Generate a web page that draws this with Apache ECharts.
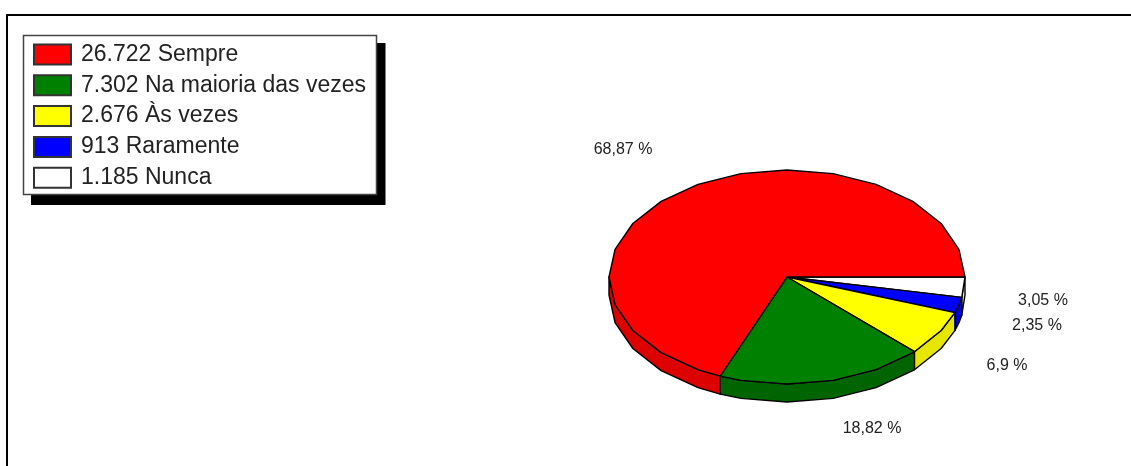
<!DOCTYPE html>
<html>
<head>
<meta charset="utf-8">
<style>html,body{margin:0;padding:0;background:#fff}#c{width:1131px;height:466px}</style>
<script src="https://cdn.jsdelivr.net/npm/echarts@6/dist/echarts.min.js"></script>
</head>
<body>
<div id="c"></div>
<script>
var categories = ['1.185 Nunca', '913 Raramente', '2.676 Às vezes', '7.302 Na maioria das vezes', '26.722 Sempre'];
var shares = [3.05, 2.35, 6.9, 18.82, 68.87];
var percentLabels = ['3,05 %', '2,35 %', '6,9 %', '18,82 %', '68,87 %'];
var legendOrder = ['26.722 Sempre', '7.302 Na maioria das vezes', '2.676 Às vezes', '913 Raramente', '1.185 Nunca'];

var topColors = ['#ffffff', '#0000ff', '#ffff00', '#008000', '#ff0000'];
var sideColors = ['#e6e6e6', '#0000dd', '#e6e600', '#006400', '#dd0000'];
var labelOffsets = [[256, 24], [250, 49], [220, 89], [85, 152], [-164, -127]];
var DEPTH = 18, STEP = 15;

var total = shares.reduce(function (a, b) { return a + b; }, 0);
var start = 0;
var ranges = shares.map(function (s) {
  var r = [start, start + s / total * 360];
  start = r[1];
  return r;
});

function arcAngles(a, b) {
  var out = [a];
  var d = Math.floor(a / STEP) * STEP + STEP;
  while (d < b) { out.push(d); d += STEP; }
  out.push(b);
  return out;
}
function rimPoint(api, deg) {
  var t = deg * Math.PI / 180;
  return api.coord([Math.cos(t), -Math.sin(t)]);
}

function makeRender(idx) {
  return function (params, api) {
    var r = ranges[idx];
    var children = [];
    var centre = api.coord([0, 0]);
    var visEnd = Math.min(r[1], 180);
    if (r[0] < 180) {
      var upper = arcAngles(r[0], visEnd).map(function (d) { return rimPoint(api, d); });
      var lower = upper.slice().reverse().map(function (p) { return [p[0], p[1] + DEPTH]; });
      children.push({
        type: 'polygon',
        shape: { points: upper.concat(lower) },
        style: { fill: sideColors[idx], stroke: '#000', lineWidth: 1.4, lineJoin: 'round' }
      });
    }
    var pts = [centre].concat(arcAngles(r[0], r[1]).map(function (d) { return rimPoint(api, d); }));
    children.push({
      type: 'polygon',
      shape: { points: pts },
      style: { fill: topColors[idx], stroke: '#000', lineWidth: 1.4, lineJoin: 'round' }
    });
    children.push({
      type: 'text',
      style: {
        x: centre[0] + labelOffsets[idx][0],
        y: centre[1] + labelOffsets[idx][1],
        text: percentLabels[idx],
        align: 'center',
        verticalAlign: 'middle',
        fill: '#222',
        font: '16px "Liberation Sans"'
      }
    });
    return { type: 'group', children: children };
  };
}

var series = categories.map(function (name, i) {
  return {
    type: 'custom',
    name: name,
    coordinateSystem: 'cartesian2d',
    clip: false,
    silent: true,
    animation: false,
    itemStyle: { color: topColors[i], borderColor: '#333', borderWidth: 1.5 },
    data: [[shares[i]]],
    encode: { x: -1, y: -1 },
    renderItem: makeRender(i)
  };
});

var chart = echarts.init(document.getElementById('c'), null, { renderer: 'canvas' });
chart.setOption({
  animation: false,
  backgroundColor: '#fff',
  grid: { left: 609, top: 170, width: 356, height: 214 },
  xAxis: { type: 'value', min: -1, max: 1, show: false },
  yAxis: { type: 'value', min: -1, max: 1, show: false },
  legend: {
    orient: 'vertical',
    left: 33,
    top: 43,
    z: 5,
    data: legendOrder.map(function (n) { return { name: n, icon: 'rect' }; }),
    itemWidth: 37,
    itemHeight: 20,
    itemGap: 7.8,
    padding: 0,
    selectedMode: false,
    inactiveColor: '#222',
    textStyle: { color: '#222', fontFamily: 'Liberation Sans', fontSize: 23, lineHeight: 20, padding: [0, 0, 0, 5] }
  },
  graphic: [
    { type: 'line', z: -10, silent: true, shape: { x1: 6, y1: 15, x2: 1131, y2: 15 }, style: { stroke: '#000', lineWidth: 2 } },
    { type: 'line', z: -10, silent: true, shape: { x1: 7, y1: 14, x2: 7, y2: 466 }, style: { stroke: '#000', lineWidth: 2 } },
    { type: 'rect', z: -9, silent: true, shape: { x: 31, y: 43, width: 354.5, height: 162 }, style: { fill: '#000' } },
    { type: 'rect', z: -8, silent: true, shape: { x: 23.5, y: 35.5, width: 353, height: 159 }, style: { fill: '#fff', stroke: '#444', lineWidth: 1.5 } }
  ],
  series: series
});
</script>
</body>
</html>
